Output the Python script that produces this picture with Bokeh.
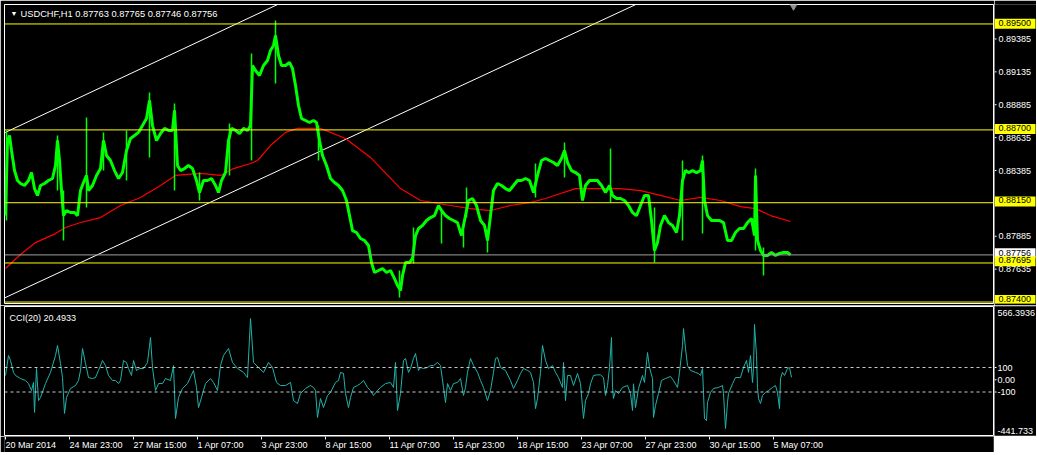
from bokeh.plotting import figure
from bokeh.models import Range1d, Span, Label
from bokeh.layouts import column, row
from bokeh.core.properties import value
from bokeh.embed import file_html
from bokeh.resources import INLINE

# ---------------- data ----------------
symbol_title = "USDCHF,H1  0.87763 0.87765 0.87746 0.87756"
cci_title = "CCI(20) 20.4933"

close_bar = [0, 2, 4, 6, 9, 12, 15, 19, 23, 26,
             29, 32, 35, 39, 43, 47, 50, 52, 54, 56,
             58, 61, 65, 69, 72, 75, 78, 81, 83, 87,
             91, 95, 98, 101, 105, 109, 113, 117, 121, 125,
             129, 133, 137, 141, 144, 147, 151, 155, 159, 163,
             167, 169, 172, 175, 179, 183, 187, 191, 194, 198,
             202, 206, 210, 213, 216, 220, 223, 226, 230, 234,
             238, 242, 245, 247, 250, 254, 258, 262, 265, 268,
             270, 273, 276, 280, 284, 287, 290, 293, 296, 300,
             304, 308, 311, 314, 317, 321, 325, 329, 333, 337,
             341, 344, 347, 351, 355, 359, 363, 366, 369, 373,
             377, 381, 385, 389, 392, 395, 397, 400, 404, 407,
             410, 413, 417, 421, 425, 429, 433, 436, 440, 444,
             448, 452, 456, 460, 463, 467, 471, 475, 479, 482,
             485, 488, 492, 496, 500, 504, 508, 512, 516, 520,
             524, 528, 532, 536, 540, 544, 548, 552, 556, 559,
             562, 566, 570, 574, 577, 580, 584, 588, 592, 596,
             600, 604, 607, 611, 615, 619, 623, 627, 631, 635,
             639, 643, 646, 649, 652, 655, 659, 663, 667, 671,
             674, 677, 680, 683, 687, 691, 695, 697, 699, 702,
             706, 710, 714, 718, 722, 726, 730, 734, 738, 742,
             746, 749, 750, 752, 755, 758, 762, 766, 770, 774,
             778, 782, 785]
close_price = [0.88053, 0.88620, 0.88658, 0.88544, 0.88393, 0.88318, 0.88295, 0.88280, 0.88318, 0.88378,
               0.88257, 0.88205, 0.88280, 0.88295, 0.88318, 0.88333, 0.88431, 0.88620, 0.88469, 0.88242,
               0.88053, 0.88091, 0.88076, 0.88076, 0.88053, 0.88242, 0.88303, 0.88356, 0.88242, 0.88280,
               0.88356, 0.88408, 0.88620, 0.88507, 0.88469, 0.88393, 0.88333, 0.88378, 0.88544, 0.88635,
               0.88658, 0.88681, 0.88733, 0.88786, 0.88922, 0.88733, 0.88620, 0.88673, 0.88711, 0.88696,
               0.88696, 0.88847, 0.88431, 0.88393, 0.88408, 0.88431, 0.88408, 0.88318, 0.88227, 0.88318,
               0.88318, 0.88333, 0.88280, 0.88227, 0.88318, 0.88378, 0.88620, 0.88711, 0.88696, 0.88673,
               0.88711, 0.88696, 0.88733, 0.89186, 0.89149, 0.89111, 0.89186, 0.89224, 0.89300, 0.89338,
               0.89413, 0.89262, 0.89186, 0.89186, 0.89209, 0.89164, 0.89035, 0.88884, 0.88786, 0.88771,
               0.88756, 0.88771, 0.88756, 0.88620, 0.88507, 0.88431, 0.88333, 0.88303, 0.88280, 0.88242,
               0.88167, 0.88053, 0.87940, 0.87925, 0.87880, 0.87865, 0.87827, 0.87698, 0.87623, 0.87638,
               0.87653, 0.87623, 0.87638, 0.87577, 0.87525, 0.87487, 0.87600, 0.87698, 0.87698, 0.87729,
               0.87902, 0.87955, 0.87978, 0.88016, 0.88038, 0.88053, 0.88129, 0.88091, 0.88053, 0.88031,
               0.88016, 0.88000, 0.87902, 0.88053, 0.88167, 0.88182, 0.88129, 0.88016, 0.87978, 0.87865,
               0.88053, 0.88242, 0.88295, 0.88280, 0.88257, 0.88242, 0.88280, 0.88318, 0.88318, 0.88333,
               0.88318, 0.88227, 0.88356, 0.88469, 0.88484, 0.88469, 0.88454, 0.88431, 0.88484, 0.88544,
               0.88454, 0.88393, 0.88378, 0.88356, 0.88167, 0.88280, 0.88318, 0.88318, 0.88318, 0.88280,
               0.88227, 0.88280, 0.88205, 0.88182, 0.88182, 0.88167, 0.88129, 0.88076, 0.88053, 0.88129,
               0.88205, 0.88205, 0.88016, 0.87789, 0.87850, 0.87978, 0.88053, 0.88000, 0.87978, 0.87925,
               0.88053, 0.88318, 0.88393, 0.88378, 0.88393, 0.88378, 0.88393, 0.88469, 0.88167, 0.88053,
               0.88016, 0.88016, 0.88016, 0.88000, 0.87865, 0.87865, 0.87925, 0.87955, 0.87955, 0.88000,
               0.88031, 0.87902, 0.88356, 0.87865, 0.87789, 0.87752, 0.87752, 0.87774, 0.87752, 0.87767,
               0.87774, 0.87774, 0.87756]

spike_bar = [1, 52, 58, 81, 98, 121, 144, 169, 194, 224, 246, 270, 313,
             394, 408, 436, 458, 461, 482, 530, 559, 605, 649, 677, 697, 750, 758]
spike_high = [0.88696, 0.88658, 0.88242, 0.88794, 0.88681, 0.88696, 0.88983, 0.88900, 0.88378,
              0.88748, 0.89277, 0.89526, 0.88733, 0.87638, 0.87963, 0.88091, 0.87940, 0.88265,
              0.87940, 0.88446, 0.88605, 0.88560, 0.88114, 0.88469, 0.88507, 0.88408, 0.87812]
spike_low = [0.88016, 0.88242, 0.87865, 0.88114, 0.88393, 0.88318, 0.88492, 0.88242, 0.88167,
             0.88356, 0.88469, 0.89051, 0.88469, 0.87434, 0.87691, 0.87842, 0.87812, 0.88038,
             0.87774, 0.88190, 0.88341, 0.88152, 0.87698, 0.87865, 0.87918, 0.87789, 0.87600]

ma_bar = [0, 15, 30, 50, 60, 75, 95, 115, 135, 155, 170, 195, 215, 228, 245, 252, 265,
          280, 292, 305, 315, 320, 340, 365, 395, 415, 445, 465, 485, 505, 525, 540, 555,
          570, 585, 615, 635, 655, 675, 695, 715, 735, 750, 765, 785]
ma_price = [0.87653, 0.87759, 0.87849, 0.87917, 0.87963, 0.88001, 0.88038, 0.88129, 0.88189,
            0.88280, 0.88356, 0.88371, 0.88356, 0.88408, 0.88446, 0.88469, 0.88582, 0.88681,
            0.88711, 0.88711, 0.88711, 0.88696, 0.88635, 0.88492, 0.88257, 0.88167, 0.88129,
            0.88106, 0.88091, 0.88129, 0.88152, 0.88182, 0.88220, 0.88257, 0.88257, 0.88257,
            0.88242, 0.88205, 0.88167, 0.88190, 0.88167, 0.88121, 0.88106, 0.88053, 0.88008]

cci_bar = [0, 3, 5, 8, 10, 15, 20, 23, 26, 28, 29, 31, 33, 35, 40, 45, 50, 52, 55, 57,
           59, 61, 65, 70, 73, 75, 77, 80, 83, 87, 90, 93, 97, 100, 103, 107, 110, 113, 115, 118,
           121, 123, 126, 128, 131, 134, 138, 142, 145, 147, 150, 153, 157, 160, 165, 168, 170, 173, 177, 182,
           188, 191, 193, 196, 200, 205, 208, 212, 215, 218, 223, 227, 232, 238, 242, 245, 248, 253, 258, 263,
           267, 271, 275, 280, 285, 288, 292, 295, 300, 305, 308, 310, 312, 315, 318, 322, 325, 330, 333, 335,
           338, 340, 343, 345, 348, 352, 355, 358, 362, 365, 368, 372, 375, 380, 385, 388, 390, 392, 395, 398,
           400, 403, 405, 408, 410, 413, 415, 418, 422, 425, 428, 432, 435, 438, 440, 442, 445, 448, 452, 455,
           458, 460, 462, 465, 468, 472, 475, 478, 482, 485, 488, 490, 492, 495, 500, 505, 508, 512, 515, 518,
           522, 525, 528, 530, 532, 535, 537, 540, 543, 547, 550, 553, 557, 558, 560, 562, 565, 568, 572, 575,
           578, 580, 583, 585, 588, 592, 595, 598, 600, 602, 604, 606, 607, 608, 610, 613, 617, 622, 625, 627,
           628, 630, 633, 637, 639, 642, 644, 647, 648, 650, 653, 656, 660, 665, 668, 672, 674, 677, 678, 680,
           682, 685, 690, 693, 695, 697, 698, 699, 701, 702, 705, 708, 713, 717, 718, 720, 722, 723, 727, 730,
           735, 738, 741, 743, 745, 747, 748, 749, 751, 752, 753, 755, 757, 760, 763, 767, 770, 772, 774, 775,
           777, 779, 782, 784, 786]
cci_value = [35, 198, 157, 60, 35, 10, -6, -31, -88, -22, -267, 92, -170, -145, -31, 60, 198, 280, 133, 18,
             -275, -145, -71, -47, -6, 76, 255, 133, 18, 10, 18, 76, 157, 116, 35, -6, -6, -31, -6, 157,
             141, 92, 35, 157, 76, 92, 92, 141, 345, 100, -88, -31, -31, 10, -6, 116, -316, -145, -71, -31,
             76, -63, -227, -145, -31, 10, -22, -88, 116, 198, 255, 141, 92, 60, 18, 500, 141, 100, 60, 141,
             100, -22, -47, -47, -22, -170, -194, -112, -71, -47, -63, -88, -308, -153, -227, -128, -104, -22, -6, 60,
             51, -112, -227, -145, -63, -47, -31, -6, -63, -88, -128, -88, -63, -31, -22, -63, 141, -251, -112, 157,
             174, 60, 92, 174, 214, 76, 100, 92, 100, 116, 116, 141, 116, -63, -186, -31, -88, -31, -22, 10,
             -128, -63, 60, 174, 116, 60, -6, -63, -170, -88, 60, 174, 182, 100, 76, -6, -71, -6, 51, 92,
             76, 60, -22, -235, -153, 60, 280, 157, 92, 116, 60, 18, -63, 141, -170, 35, 35, -47, 51, -31,
             -316, -170, -112, -33, 35, 40, 40, 18, -128, -47, 100, 345, -63, -153, -88, -112, -63, -47, -112, -251,
             -33, -227, -71, 35, -22, 222, 100, 10, -308, -210, -112, -6, 10, 27, -6, -63, 60, 280, 418, 255,
             116, 76, 60, 51, 35, 92, -104, -316, -333, -186, -104, -71, -63, -47, -112, -398, -186, -112, -33, 18,
             18, 100, 157, 60, 198, -22, 92, 451, 198, -63, -153, -194, -128, -104, -88, -63, -47, -104, -235, 10,
             60, 35, 92, 100, 20]

trend_bar = [[-1, 300], [-1, 650]]
trend_price = [[0.88678, 0.89746], [0.87431, 0.89716]]

level_prices = [0.89500, 0.88700, 0.88150, 0.87695, 0.87400]
level_labels = ["0.89500", "0.88700", "0.88150", "0.87695", "0.87400"]
bid_price = 0.87756
bid_label = "0.87756"
price_ticks = [0.87635, 0.87885, 0.88385, 0.88635, 0.88885, 0.89135, 0.89385]

cci_levels = [100, -100]
cci_ticks = [-100, 0, 100]
cci_tick_labels = ["-100", "0.00", "100"]
cci_max, cci_min = 566.3936, -441.733
cci_max_label, cci_min_label = "566.3936", "-441.733"

time_tick_bars = [0, 64, 128, 192, 256, 320, 384, 448, 512, 576, 640, 704, 768]
time_tick_labels = ["20 Mar 2014", "24 Mar 23:00", "27 Mar 15:00", "1 Apr 07:00", "3 Apr 23:00",
                    "8 Apr 15:00", "11 Apr 07:00", "15 Apr 23:00", "18 Apr 15:00", "23 Apr 07:00",
                    "27 Apr 23:00", "30 Apr 15:00", "5 May 07:00"]
shift_bar = 788

assert len(close_bar) == len(close_price)
assert len(spike_bar) == len(spike_high) == len(spike_low)
assert len(ma_bar) == len(ma_price)
assert len(cci_bar) == len(cci_value)

# ---------------- style ----------------
FONT = "Liberation Sans"
FS = "9px"
MAIN_W = 994
SIDE_W = 42
x_range = Range1d(-1, 988)
price_range = Range1d(0.87389, 0.89647)
# same scale as the price panel, two pixels taller (reaches into the gap below the panel)
side_price_range = Range1d(0.87374, 0.89647)
cci_range = Range1d(-455, 598)


def mk(width, height, xr, yr, left, right, top, bottom, outline=True):
    f = figure(width=width, height=height, x_range=xr, y_range=yr,
               output_backend="svg", toolbar_location=None,
               x_axis_location=None, y_axis_location=None,
               min_border_left=left, min_border_right=right,
               min_border_top=top, min_border_bottom=bottom)
    f.grid.visible = False
    f.outline_line_color = "white" if outline else None
    f.outline_line_width = 1
    f.background_fill_color = "black"
    f.border_fill_color = "black"
    return f


def glyph_text(color="white", size=FS, baseline="middle"):
    return dict(text_color=color, text_font=value(FONT), text_font_size=size,
                text_align="left", text_baseline=baseline)


def label_text(color="white", size=FS):
    return dict(text_color=color, text_font=FONT, text_font_size=size,
                text_align="left", text_baseline="middle")


# ---------------- price panel ----------------
pf = mk(MAIN_W, 305, x_range, price_range, 4, 1, 4, 2)
for lv in level_prices:
    pf.add_layout(Span(location=lv, dimension="width", line_color="#ffff00", line_width=1))
pf.add_layout(Span(location=bid_price, dimension="width", line_color="#a0a0a0", line_width=1))

pf.multi_line(trend_bar, trend_price, line_color="white", line_width=1)
pf.line(ma_bar, ma_price, line_color="#ff0000", line_width=1.2)
pf.segment(x0=spike_bar, y0=spike_low, x1=spike_bar, y1=spike_high, line_color="#00ff00", line_width=1.5)
pf.line(close_bar, close_price, line_color="#00ff00", line_width=3)
pf.scatter([shift_bar], [price_range.end], marker="inverted_triangle", size=10, color="#909090")

pf.add_layout(Label(x=6, y=290, x_units="screen", y_units="screen", text="▼",
                    **label_text(size="7px")))
pf.add_layout(Label(x=16, y=290, x_units="screen", y_units="screen", text=symbol_title,
                    **label_text(size="9.3px")))

# price scale (right side)
ps = mk(SIDE_W, 305, Range1d(0, SIDE_W), side_price_range, 0, 0, 4, 0, outline=False)
ps.segment(x0=0, y0=price_ticks, x1=2, y1=price_ticks, line_color="white", line_width=1)
ps.text(x=4, y=price_ticks, text=[f"{t:.5f}" for t in price_ticks], **glyph_text())
ps.rect(x=20.5, y=[bid_price], width=41, height=10, height_units="screen",
        fill_color="white", line_color=None)
ps.text(x=[4], y=[bid_price], text=[bid_label], **glyph_text(color="black"))
ps.rect(x=20.5, y=level_prices, width=41, height=10, height_units="screen",
        fill_color="#ffff00", line_color=None)
ps.text(x=4, y=level_prices, text=level_labels, y_offset=-1, **glyph_text(color="black"))

# ---------------- CCI panel ----------------
cf = mk(MAIN_W, 131, x_range, cci_range, 4, 1, 1, 1)
for lv in cci_levels:
    cf.add_layout(Span(location=lv, dimension="width", line_color="#c8c8c8",
                       line_width=1, line_dash="3 3"))
cf.line(cci_bar, cci_value, line_color="#20b2aa", line_width=1)
cf.add_layout(Label(x=5, y=118, x_units="screen", y_units="screen", text=cci_title,
                    **label_text()))

cs = mk(SIDE_W, 131, Range1d(0, SIDE_W), cci_range, 0, 0, 1, 1, outline=False)
cs.segment(x0=0, y0=cci_ticks, x1=2, y1=cci_ticks, line_color="white", line_width=1)
cs.text(x=3, y=cci_ticks, text=cci_tick_labels, **glyph_text())
cs.text(x=[3], y=[cci_max], text=[cci_max_label], **glyph_text(baseline="top"))
cs.text(x=[3], y=[cci_min], text=[cci_min_label], **glyph_text(baseline="bottom"))

# ---------------- time scale ----------------
xf = mk(MAIN_W, 16, x_range, Range1d(0, 16), 4, 1, 0, 0, outline=False)
xf.segment(x0=time_tick_bars, y0=16, x1=time_tick_bars, y1=13, line_color="white", line_width=1)
xf.text(x=time_tick_bars, y=8, text=time_tick_labels, **glyph_text())

layout = column(row(pf, ps), row(cf, cs), xf)
open("out.html", "w").write(file_html(layout, INLINE))
